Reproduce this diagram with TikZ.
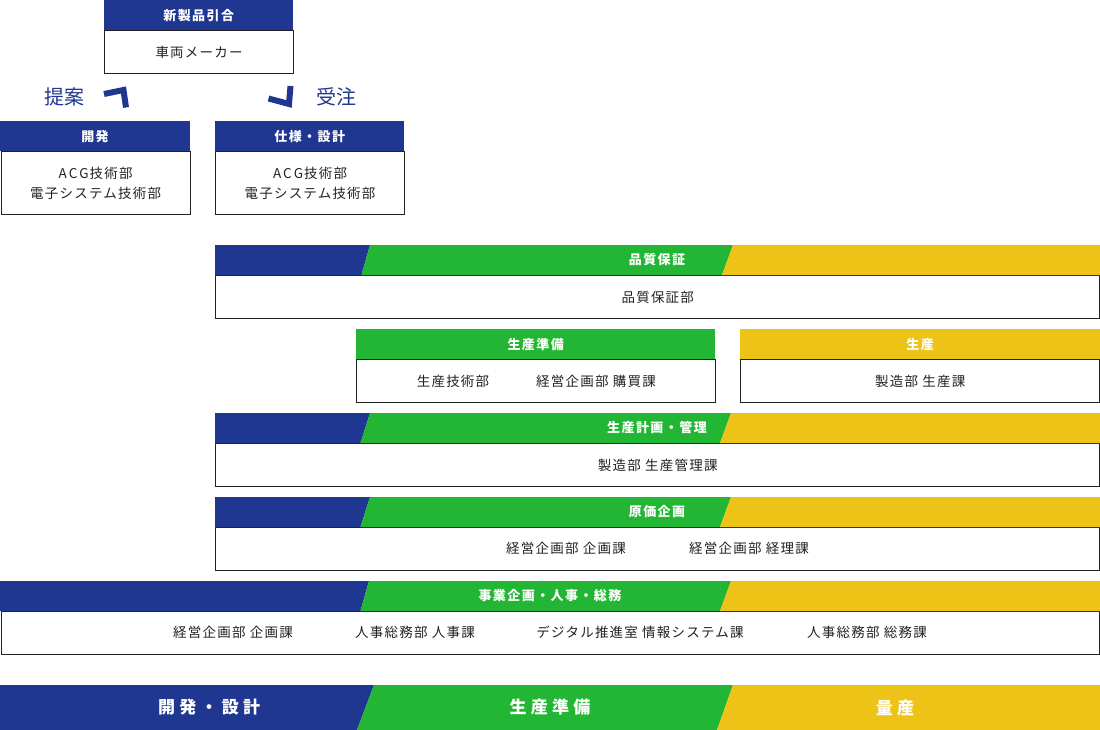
\documentclass[tikz,border=0pt]{standalone}
\usepackage{fontspec}
\setmainfont{Noto Sans CJK JP}
\newfontfamily\spaced[LetterSpace=25]{Noto Sans CJK JP}
\newfontfamily\bodyfont[LetterSpace=9]{Noto Sans CJK JP}
\newfontfamily\hdrfont[LetterSpace=11]{Noto Sans CJK JP}
\definecolor{cblue}{RGB}{31,55,145}
\definecolor{cgreen}{RGB}{35,182,52}
\definecolor{cyellow}{RGB}{238,195,24}
\definecolor{cline}{RGB}{34,34,34}
\definecolor{ctext}{RGB}{34,34,34}
\tikzset{
  bodybox/.style={draw=cline, line width=1.1pt, fill=white, inner sep=0pt, anchor=north west,
    text=ctext, font=\fontsize{13.5}{20}\selectfont\bodyfont, align=center},
  hdrbox/.style={inner sep=0pt, anchor=north west, minimum height=30pt, text=white,
    font=\fontsize{13}{15}\selectfont\hdrfont\bfseries},
  hdrtxt/.style={inner sep=0pt, text=white, font=\fontsize{13}{15}\selectfont\hdrfont\bfseries},
  bodytxt/.style={inner sep=0pt, text=ctext, font=\fontsize{13.5}{20}\selectfont\bodyfont},
  bigtxt/.style={inner sep=0pt, text=white, font=\fontsize{17}{20}\selectfont\spaced\bfseries},
  sidetxt/.style={inner sep=0pt, text=cblue, font=\fontsize{20}{24}\selectfont},
  tick/.style={draw=cblue, line width=6pt, miter limit=10}
}
\newcommand{\acg}{A\hspace{2pt}C\hspace{2pt}G\hspace{1pt}}
% #1 y top, #2 y bottom, #3 x left, #4 blue top, #5 blue bottom, #6 green top, #7 green bottom, #8 x right
\newcommand{\tribar}[8]{%
  \fill[cblue] (#3,#1) -- (#4,#1) -- (#5,#2) -- (#3,#2) -- cycle;
  \fill[cgreen] (#4,#1) -- (#6,#1) -- (#7,#2) -- (#5,#2) -- cycle;
  \fill[cyellow] (#6,#1) -- (#8,#1) -- (#8,#2) -- (#7,#2) -- cycle;
}
\begin{document}
\begin{tikzpicture}[x=1pt,y=-1pt]
\useasboundingbox (0,0) rectangle (1100,730);

% top box
\node[bodybox, minimum width=189pt, minimum height=43pt] (mkB) at (104,30) {車両メーカー};
\node[hdrbox, fill=cblue, minimum width=189pt] (mkH) at (104,0) {新製品引合};

% side labels and ticks
\node[sidetxt] (teian) at (64,97) {提案};
\node[sidetxt] (juchu) at (336,97) {受注};
\draw[tick] (104,94) -- (123.5,90) -- (126,107.5);
\draw[tick] (290.5,86) -- (289,104) -- (268.5,98.5);

% 開発
\node[bodybox, minimum width=189pt, minimum height=63pt] (kaB) at (0.6,151) {\acg 技術部\\電子システム技術部};
\node[hdrbox, fill=cblue, minimum width=189.6pt] (kaH) at (0,121) {開発};

% 仕様・設計
\node[bodybox, minimum width=189pt, minimum height=63pt] (shB) at (215,151) {\acg 技術部\\電子システム技術部};
\node[hdrbox, fill=cblue, minimum width=189pt] (shH) at (215,121) {仕様・設計};

% 品質保証
\node[bodybox, minimum width=884.4pt, minimum height=43pt] (hiB) at (215,275) {品質保証部};
\tribar{245}{275}{215}{370}{361.5}{733}{722}{1100}
\node[hdrtxt] (hiH) at (657,260) {品質保証};

% 生産準備
\node[bodybox, minimum width=359pt, minimum height=43pt] (sjB) at (356,359) {};
\node[hdrbox, fill=cgreen, minimum width=359pt] (sjH) at (356,329) {生産準備};
\node[bodytxt] (sjT1) at (453,381) {生産技術部};
\node[bodytxt] (sjT2) at (596,381) {経営企画部 購買課};

% 生産
\node[bodybox, minimum width=359.4pt, minimum height=43pt] (ssB) at (740,359) {製造部 生産課};
\node[hdrbox, fill=cyellow, minimum width=360pt] (ssH) at (740,329) {生産};

% 生産計画・管理
\node[bodybox, minimum width=884.4pt, minimum height=43pt] (skB) at (215,443) {製造部 生産管理課};
\tribar{413}{443}{215}{370}{360.5}{731}{720}{1100}
\node[hdrtxt] (skH) at (657,428) {生産計画・管理};

% 原価企画
\node[bodybox, minimum width=884.4pt, minimum height=43pt] (gkB) at (215,527) {};
\tribar{497}{527}{215}{370}{360.5}{731}{720}{1100}
\node[hdrtxt] (gkH) at (657,512) {原価企画};
\node[bodytxt] (gkT1) at (566,548) {経営企画部 企画課};
\node[bodytxt] (gkT2) at (749,548) {経営企画部 経理課};

% 事業企画・人事・総務
\node[bodybox, minimum width=1098.8pt, minimum height=43pt] (jkB) at (0.6,611) {};
\tribar{581}{611}{0}{369}{360.5}{731}{720}{1100}
\node[hdrtxt] (jkH) at (550,596) {事業企画・人事・総務};
\node[bodytxt] (jkT1) at (233,632) {経営企画部 企画課};
\node[bodytxt] (jkT2) at (415,632) {人事総務部 人事課};
\node[bodytxt] (jkT3) at (640,632) {デジタル推進室 情報システム課};
\node[bodytxt] (jkT4) at (867,632) {人事総務部 総務課};

% bottom phase bar
\tribar{685}{730}{0}{374}{357}{733}{717}{1100}
\node[bigtxt] (ph1) at (209,707.5) {開発・設計};
\node[bigtxt] (ph2) at (550,707.5) {生産準備};
\node[bigtxt] (ph3) at (895,707.5) {量産};
\end{tikzpicture}
\end{document}
